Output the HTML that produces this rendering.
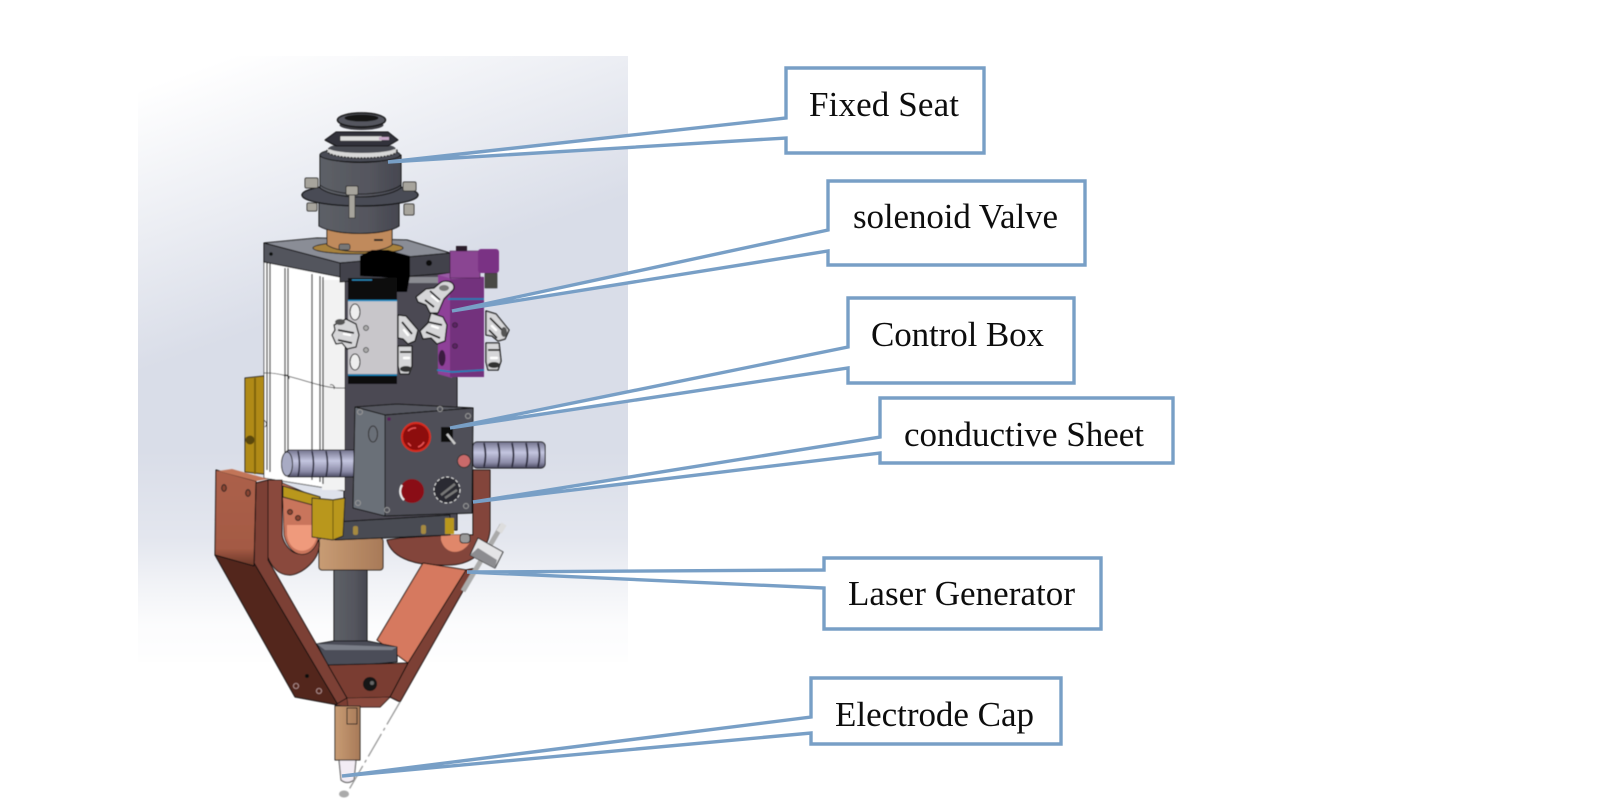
<!DOCTYPE html>
<html><head><meta charset="utf-8"><style>
html,body{margin:0;padding:0;background:#fff}
svg{display:block}
text{font-family:"Liberation Serif",serif;font-size:35px;fill:#0c0c0c}
</style></head><body>
<svg xmlns="http://www.w3.org/2000/svg" width="1600" height="800" viewBox="0 0 1600 800">
<defs>
<linearGradient id="bg" gradientUnits="userSpaceOnUse" x1="138" y1="90" x2="228" y2="340"><stop offset="0" stop-color="#fff"/><stop offset="1" stop-color="#d9dde8"/></linearGradient>
<linearGradient id="fade" gradientUnits="userSpaceOnUse" x1="0" y1="450" x2="0" y2="662"><stop offset="0" stop-color="#fff" stop-opacity="0"/><stop offset=".42" stop-color="#fff" stop-opacity=".28"/><stop offset=".62" stop-color="#fff" stop-opacity=".62"/><stop offset=".82" stop-color="#fff" stop-opacity=".9"/><stop offset="1" stop-color="#fff" stop-opacity=".97"/></linearGradient>
<linearGradient id="cyl" x1="0" y1="0" x2="1" y2="0"><stop offset="0" stop-color="#5d6067"/><stop offset=".6" stop-color="#55565e"/><stop offset="1" stop-color="#464750"/></linearGradient>
<linearGradient id="cop" x1="0" y1="0" x2="1" y2="0"><stop offset="0" stop-color="#c89c74"/><stop offset="1" stop-color="#a87a58"/></linearGradient>
<linearGradient id="bar" x1="0" y1="0" x2="0" y2="1"><stop offset="0" stop-color="#74748e"/><stop offset=".4" stop-color="#c4c6e0"/><stop offset=".8" stop-color="#8a8aa6"/><stop offset="1" stop-color="#4a4a60"/></linearGradient>
<linearGradient id="face" x1="0" y1="0" x2="0" y2="1"><stop offset="0" stop-color="#ac604a"/><stop offset=".82" stop-color="#a45a44"/><stop offset="1" stop-color="#6a3628"/></linearGradient>
<filter id="b" x="-5%" y="-5%" width="110%" height="110%"><feGaussianBlur stdDeviation=".55"/></filter>
<filter id="t" x="-5%" y="-5%" width="110%" height="110%"><feGaussianBlur stdDeviation=".3"/></filter>
</defs>
<rect x="138" y="56" width="490" height="606" fill="url(#bg)"/>
<rect x="138" y="450" width="490" height="212" fill="url(#fade)"/>
<g filter="url(#b)" stroke-linejoin="round">
<!-- back plate -->
<rect x="344" y="270" width="113" height="260" fill="#4b4a52" stroke="#111" stroke-width="1"/>
<rect x="400" y="277" width="42" height="6" fill="#8b8c92"/>
<!-- white cylinder -->
<polygon points="264,258 345,278 345,491 264,478" fill="#fff" stroke="#222" stroke-width=".8"/>
<rect x="322" y="280" width="22" height="210" fill="#f2f2f2"/>
<g stroke="#222" stroke-width="1.2" fill="none">
<path d="M267 262V470M270 263V472M285 268V474M288 268V475M312 274V480M320 276V482M323 277V484"/>
<path d="M264 373C290 372 320 390 345 388" stroke-width=".7"/>
<path d="M284 376a3 3 0 0 1 5 3M330 385a3 3 0 0 1 4 4M262 420a4 4 0 0 1 3 7M328 470a4 4 0 0 1 4 5" stroke-width=".8"/>
</g>
<!-- yellow strip -->
<polygon points="245,378 264,376 264,474 245,472" fill="#b08a18" stroke="#222"/>
<rect x="254" y="378" width="2" height="96" fill="#7d6210"/>
<circle cx="250" cy="440" r="4.5" fill="#5a4608"/>
<!-- right U behind -->
<path d="M387 540C392 560 420 566 445 565C470 566 488 552 490 530V470H473V535H450L400 538Z" fill="#83453a" stroke="#111"/>
<path d="M441 540C445 555 462 556 470 542V535H441Z" fill="#e0876a"/>
<!-- right arm -->
<polygon points="377,640 423,563 466,570 408,663" fill="#d6795e" stroke="#111"/>
<polygon points="466,570 476,568 400,702 390,697 408,663" fill="#7c3f34" stroke="#111"/>
<!-- sleeve, shaft -->
<rect x="319" y="538" width="64" height="32" rx="3" fill="url(#cop)" stroke="#222"/>
<rect x="334" y="570" width="33" height="76" fill="url(#cyl)" stroke="#111"/>
<!-- bottom plate -->
<polygon points="317,644 334,641 367,641 397,647 397,662 329,668" fill="#4c4e58" stroke="#111"/>
<polygon points="317,644 397,647 392,650 325,650" fill="#7a7e88"/>
<!-- left U -->
<path d="M268 480H282V535C284 548 300 565 316 544L319 540C322 560 300 575 290 575C275 575 266 560 266 545Z" fill="#8a4a3c" stroke="#111"/>
<path d="M282 483L318 498V540C312 560 290 560 284 535Z" fill="#c9745c" stroke="#111" stroke-width=".8"/>
<path d="M287 535C290 556 314 556 317 535V525H287Z" fill="#ef9a7c"/>
<circle cx="290" cy="512" r="2.5" fill="#8a4530" stroke="#222"/><circle cx="298" cy="518" r="2.5" fill="#8a4530" stroke="#222"/>
<polygon points="283,486 320,497 320,507 283,497" fill="#b9971e" stroke="#222"/>
<!-- left arm -->
<polygon points="256,483 268,480 268,560 347,698 338,705 254,563" fill="#7c3f34" stroke="#111"/>
<polygon points="215,555 254,563 338,705 295,697" fill="#52281e" stroke="#111"/>
<polygon points="216,470 256,481 254,566 215,555" fill="url(#face)" stroke="#111"/>
<polygon points="218,471 256,481 268,479 232,469" fill="#c27458"/>
<ellipse cx="224" cy="488" rx="2.3" ry="3.4" fill="#8a4530" stroke="#222"/><ellipse cx="248" cy="493" rx="2.3" ry="3.4" fill="#8a4530" stroke="#222"/>
<circle cx="296" cy="686" r="2.6" fill="none" stroke="#b99" stroke-width=".8"/><circle cx="319" cy="691" r="2.6" fill="none" stroke="#b99" stroke-width=".8"/><circle cx="307" cy="676" r="2" fill="#111"/>
<!-- center bottom -->
<polygon points="328,665 408,663 390,697 380,707 348,707 335,705 347,698" fill="#7a3d33" stroke="#111"/>
<polygon points="347,698 390,697 380,707 348,707" fill="#8a4a3c" stroke="#111" stroke-width=".6"/>
<circle cx="370" cy="684" r="7" fill="#161616"/><circle cx="372" cy="683" r="2" fill="#666"/>
<!-- electrode -->
<path d="M339 760H356L354 780Q347 785 341 780Z" fill="#f2ecf4" stroke="#666" stroke-width="1.2"/>
<rect x="335" y="706" width="25" height="54" fill="url(#cop)" stroke="#222"/>
<rect x="347" y="708" width="10" height="16" fill="none" stroke="#222"/>
<path d="M400 702L347 793" stroke="#999" stroke-width="1.3" stroke-dasharray="26 4 3 4" fill="none"/>
<ellipse cx="344" cy="794" rx="5" ry="3.5" fill="#aaa"/>
<!-- plate and head -->
<polygon points="264,243 317,238 407,240 450,253 443,257 340,263" fill="#8a8d96" stroke="#111"/>
<polygon points="264,243 340,263 340,277 264,262" fill="#53555d" stroke="#111"/>
<polygon points="340,263 450,253 450,273 340,282" fill="#42434b" stroke="#111"/>
<circle cx="271" cy="254" r="1.8" fill="#111"/><circle cx="429" cy="263" r="3" fill="#111"/>
<ellipse cx="358" cy="248" rx="45" ry="6" fill="#a8823e" stroke="#222"/>
<path d="M327 229V245C340 254 380 254 392 245V229Z" fill="#c08a5c" stroke="#222"/>
<rect x="374" y="239" width="9" height="2" fill="#222"/>
<rect x="339" y="244" width="11" height="6" rx="2" fill="#777" stroke="#222" stroke-width=".7"/>
<path d="M319 200V226C335 236 385 236 399 226V200Z" fill="url(#cyl)" stroke="#111"/>
<rect x="307" y="203" width="10" height="8" rx="1.5" fill="#a7a49c" stroke="#333"/>
<rect x="404" y="204" width="10" height="11" rx="1.5" fill="#a7a49c" stroke="#333"/>
<ellipse cx="360" cy="195" rx="58" ry="11" fill="#4a4c55" stroke="#111" stroke-width="1.3"/>
<rect x="305" y="178" width="13" height="10" rx="1.5" fill="#a7a49c" stroke="#333"/>
<rect x="403" y="182" width="13" height="9" rx="1.5" fill="#a7a49c" stroke="#333"/>
<path d="M320 155V188C335 200 385 200 401 188V155C385 165 335 165 320 155Z" fill="url(#cyl)" stroke="#111"/>
<ellipse cx="360" cy="155" rx="40" ry="7" fill="#4a4c55" stroke="#111"/>
<path d="M320 185C335 197 385 197 401 185" stroke="#111" fill="none" stroke-width=".8"/>
<rect x="346" y="186" width="12" height="9" rx="1.5" fill="#a7a49c" stroke="#333"/>
<rect x="349" y="195" width="6" height="23" fill="#a7a49c" stroke="#333" stroke-width=".8"/>
<ellipse cx="362" cy="151" rx="35" ry="7" fill="#d8d8d8" stroke="#222" stroke-dasharray="2 1.3" stroke-width="1.4"/>
<ellipse cx="362" cy="148" rx="33" ry="5" fill="#4a4b52"/>
<path d="M325 140L336 132H388L398 140L388 146H336Z" fill="#32323a" stroke="#111"/>
<rect x="340" y="136" width="42" height="5" fill="#ddd" stroke="#222" stroke-width=".6"/>
<rect x="379" y="137" width="10" height="3" fill="#c7a8c8"/>
<ellipse cx="361.5" cy="125" rx="22" ry="5" fill="#3a3a40"/>
<ellipse cx="361.5" cy="120" rx="24" ry="7" fill="#55565e" stroke="#111" stroke-width="1.4"/>
<ellipse cx="361.5" cy="118" rx="17" ry="3.5" fill="#141414"/>
<!-- black block -->
<polygon points="360,256 372,250 388,250 410,256 410,276 407,292 397,292 397,278 360,276" fill="#060606"/>
<!-- left valve -->
<rect x="348" y="278" width="49" height="24" fill="#0d0d0f"/>
<path d="M352 280H372" stroke="#2a8fc0" stroke-width="1.2"/>
<rect x="348" y="300" width="49" height="76" fill="#c8c6ca"/>
<rect x="348" y="374" width="49" height="10" fill="#0d0d0f"/>
<path d="M348 300.5H397M348 375H397" stroke="#1e90c8" stroke-width="1.6"/>
<ellipse cx="355" cy="312" rx="5" ry="8" fill="#eee" stroke="#222"/><ellipse cx="355" cy="362" rx="5" ry="8" fill="#eee" stroke="#222"/>
<circle cx="366" cy="328" r="2.5" fill="#aaa" stroke="#333" stroke-width=".7"/><circle cx="366" cy="350" r="2.5" fill="#aaa" stroke="#333" stroke-width=".7"/>
<!-- purple valve -->
<polygon points="438,275 452,279 452,378 438,374" fill="#8e3f98"/>
<rect x="450" y="277" width="34" height="100" fill="#73307d"/>
<polygon points="438,275 450,273 484,277 452,279" fill="#9a5aa6"/>
<rect x="485" y="273" width="12" height="15" fill="#4a4a44" stroke="#222" stroke-width=".6"/>
<rect x="450" y="251" width="30" height="27" fill="#8a4492" stroke="#3a1a40" stroke-width=".6"/>
<rect x="478" y="249" width="21" height="24" rx="3" fill="#7a3384"/>
<rect x="456" y="246" width="11" height="5" fill="#2a1a2c"/>
<path d="M448 299H484M437 370L452 372L484 370" stroke="#1d7fb8" stroke-width="1.7" fill="none"/>
<ellipse cx="442" cy="358" rx="3.5" ry="8" fill="#3a1a40"/>
<circle cx="455" cy="325" r="2.5" fill="#5b2464" stroke="#222" stroke-width=".6"/><circle cx="455" cy="346" r="2.5" fill="#5b2464" stroke="#222" stroke-width=".6"/>
<!-- fittings -->
<g stroke="#111" stroke-width="1.3" fill="#d6d6d8">
<path d="M440 283a8 6 0 0 1 12 8l-8 8-6 14h-8l-4-8-8-3-2-5 10-8 8-1z"/>
<path d="M431 313l12 4 4 8-2 16-8 3-6-6-8 1-3-8 8-8z"/>
<path d="M334 325l12-6 10 5 3 11-3 12-9 2-5-6-6 1-4-9 3-5z"/>
<path d="M398 315l8 1 12 14-3 11-7 3-5-5-5-1z"/>
<path d="M398 346h14v20l-3 8h-9l-2-8z"/>
<path d="M486 311l10 3 13 16-4 9-7 2-6-5-6-1z"/>
<path d="M486 343h13l2 18-3 9h-10l-2-8z"/>
</g>
<g stroke="#1c1c1e" stroke-width="1.8" fill="none">
<path d="M430 291l10 9M425 300l9 7M428 322l14 3M426 332l14 6M338 330l16 3M338 340l14 3M402 322l10 12M490 318l12 12M489 330l8 8M400 352h11M488 350h11"/>
</g>
<g stroke="#fff" stroke-width="2.4" fill="none" stroke-linecap="round">
<path d="M432 296l6 5M432 326l6 2M344 334l6 1M404 330l4 5M492 326l4 4M404 358h5M491 358h6"/>
</g>
<ellipse cx="444" cy="288" rx="5" ry="3" fill="#777"/>
<ellipse cx="340" cy="322" rx="5" ry="3" fill="#555"/>
<ellipse cx="504" cy="332" rx="3" ry="5" fill="#555"/>
<ellipse cx="406" cy="369" rx="6" ry="3" fill="#333"/>
<ellipse cx="494" cy="365" rx="6" ry="3" fill="#333"/>
<!-- bars -->
<rect x="285" y="450" width="88" height="27" rx="5" fill="url(#bar)" stroke="#111"/>
<ellipse cx="287" cy="464" rx="5.5" ry="12" fill="#a8abc4" stroke="#222"/>
<g stroke="#2c2c3c" stroke-width="1.6" fill="none"><path d="M298 451q3 13 0 26M312 451q3 13 0 26M326 451q3 13 0 26M340 451q3 13 0 26M354 451q3 13 0 26M366 451q3 13 0 26"/></g>
<rect x="473" y="442" width="72" height="26" rx="4" fill="url(#bar)" stroke="#111"/>
<g stroke="#2c2c3c" stroke-width="1.8" fill="none"><path d="M484 443q3 12 0 24M498 443q3 12 0 24M512 443q3 12 0 24M526 443q3 12 0 24M538 443q3 12 0 24"/></g>
<!-- bracket -->
<polygon points="335,522 450,515 450,535 335,540" fill="#4a4b53" stroke="#111"/>
<rect x="353" y="526" width="5" height="9" rx="2" fill="#a68a40"/><rect x="421" y="525" width="5" height="9" rx="2" fill="#a68a40"/>
<rect x="445" y="518" width="9" height="16" fill="#b9971e"/>
<polygon points="312,498 333,500 345,498 343,536 333,540 312,537" fill="#b9971e" stroke="#222"/>
<path d="M333 500V540" stroke="#6a5610"/>
<!-- control box -->
<polygon points="355,407 397,404 473,408 385,415" fill="#55565e" stroke="#111"/>
<polygon points="385,415 473,408 472,513 385,516" fill="#4f5058" stroke="#111"/>
<polygon points="355,407 385,415 385,516 353,508" fill="#6b7078" stroke="#111"/>
<ellipse cx="373" cy="434" rx="4.5" ry="8" fill="none" stroke="#333"/>
<circle cx="416" cy="437" r="14" fill="#8d0f10" stroke="#d82a1c" stroke-width="2"/>
<path d="M408 431a10 10 0 0 1 8-3M424 442a10 10 0 0 1-6 5M408 443l3 3" stroke="#e55" stroke-width="1.4" fill="none"/>
<rect x="441" y="427" width="12" height="15" fill="#111"/>
<path d="M447 434L455 444" stroke="#ccc" stroke-width="2.4"/>
<circle cx="464" cy="461" r="6.5" fill="#c96a6a" stroke="#333"/>
<circle cx="412" cy="491" r="12" fill="#8a0a14"/>
<path d="M402 485a12 12 0 0 0 2 15" stroke="#eee" stroke-width="2" fill="none"/>
<circle cx="447" cy="490" r="13" fill="#2a2a30" stroke="#ddd" stroke-width="1" stroke-dasharray="3 2"/>
<path d="M441 495L455 484M445 498L457 490" stroke="#777" stroke-width="2.4"/>
<g fill="none" stroke="#999" stroke-width="1"><circle cx="360" cy="412" r="2.5"/><circle cx="440" cy="409" r="2.5"/><circle cx="468" cy="416" r="2.5"/><circle cx="466" cy="506" r="2.5"/><circle cx="358" cy="503" r="2.5"/><circle cx="387" cy="510" r="2.5"/></g>
<circle cx="389" cy="419" r="1.8" fill="#5a1a5a"/>
<!-- laser -->
<path d="M502 525L463 591" stroke="#aaa" stroke-width="5"/>
<path d="M504 524L499 532" stroke="#ddd" stroke-width="6"/>
<rect x="460" y="534" width="10" height="9" rx="3" fill="#999" stroke="#222"/>
<polygon points="478,538 503,552 495,568 470,555" fill="#e4e4e6" stroke="#222"/>
<polygon points="470,555 495,568 497,560 478,548" fill="#8c8c90"/>
</g>
<!-- callouts -->
<g fill="#fff" stroke="#789fc6" stroke-width="3.4" stroke-linejoin="miter" stroke-miterlimit="3">
<path d="M786 68H984V153H786V138L388 162L786 118Z"/>
<path d="M828 181H1085V265H828V251L452 311L828 230Z"/>
<path d="M848 298H1074V383H848V368L450 428L848 347Z"/>
<path d="M880 398H1173V463H880V453L473 502L880 437Z"/>
<path d="M824 558H1101V629H824V588L467 572L824 570Z"/>
<path d="M811 678H1061V744H811V733L342 776L811 717Z"/>
</g>
<g filter="url(#t)">
<text x="809" y="116" textLength="150">Fixed Seat</text>
<text x="853" y="228" textLength="205">solenoid Valve</text>
<text x="871" y="346" textLength="173">Control Box</text>
<text x="904" y="446" textLength="240">conductive Sheet</text>
<text x="848" y="605" textLength="227">Laser Generator</text>
<text x="835" y="726" textLength="199">Electrode Cap</text>
</g>
</svg>
</body></html>
